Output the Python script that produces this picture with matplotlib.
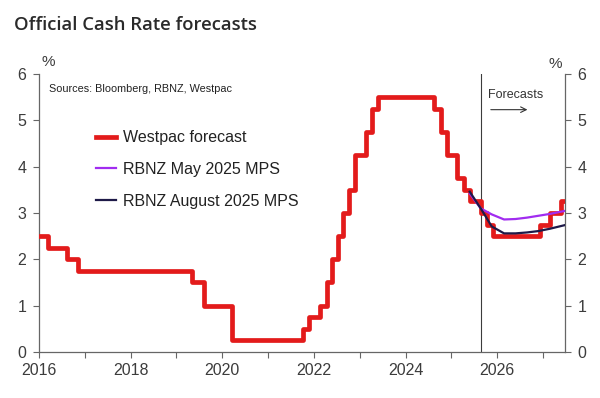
import matplotlib
matplotlib.use("Agg")
import matplotlib.pyplot as plt

# OCR history + Westpac forecast (decimal years, step changes)
wbc_x = [2015.9, 2016.19, 2016.61, 2016.86, 2019.35, 2019.60, 2020.21, 2021.76, 2021.90,
         2022.14, 2022.28, 2022.40, 2022.53, 2022.63, 2022.76, 2022.89, 2023.14, 2023.26,
         2023.39, 2024.62, 2024.77, 2024.91, 2025.13, 2025.27, 2025.41, 2025.64, 2025.77,
         2025.90, 2026.93, 2027.16, 2027.40, 2027.60]
wbc_y = [2.50, 2.25, 2.00, 1.75, 1.50, 1.00, 0.25, 0.50, 0.75,
         1.00, 1.50, 2.00, 2.50, 3.00, 3.50, 4.25, 4.75, 5.25,
         5.50, 5.25, 4.75, 4.25, 3.75, 3.50, 3.25, 3.00, 2.75,
         2.50, 2.75, 3.00, 3.25, 3.25]

# RBNZ MPS tracks (quarterly)
q_x = [2025.40, 2025.64, 2025.88, 2026.15, 2026.40, 2026.65, 2026.90, 2027.15, 2027.40, 2027.65]
may_y = [3.42, 3.10, 2.97, 2.86, 2.87, 2.90, 2.94, 2.98, 3.03, 3.08]
aug_y = [3.46, 3.10, 2.71, 2.56, 2.56, 2.58, 2.61, 2.66, 2.72, 2.78]

forecast_start = 2025.64
years_major = [2016, 2018, 2020, 2022, 2024, 2026]
years_minor = list(range(2016, 2028))

RED, PURPLE, NAVY, GREY = "#e31b1b", "#a12cf0", "#1e1a48", "#3c3c3c"

plt.rcParams.update({"font.family": ["Liberation Sans", "DejaVu Sans"]})

fig = plt.figure(figsize=(6.0, 3.98), dpi=100)
ax = fig.add_axes([0.065, 0.1156, 0.8767, 0.6985])

ax.step(wbc_x, wbc_y, where="post", color=RED, lw=3.4, label="Westpac forecast", zorder=3)
ax.plot(q_x, may_y, color=PURPLE, lw=1.6, label="RBNZ May 2025 MPS", zorder=4)
ax.plot(q_x, aug_y, color=NAVY, lw=1.6, label="RBNZ August 2025 MPS", zorder=5)
ax.axvline(forecast_start, color=GREY, lw=0.8, zorder=2)

ax.set_xlim(2016, 2027.48)
ax.set_ylim(0, 6)
ax.set_xticks(years_major)
ax.set_xticks(years_minor, minor=True)
ax.set_yticks(range(0, 7))
ax.spines["top"].set_visible(False)
for s in ("left", "right", "bottom"):
    ax.spines[s].set_color("#666666")
    ax.spines[s].set_linewidth(0.9)
ax.tick_params(axis="both", which="both", direction="out", length=4, width=0.8,
               color="#666666", labelsize=11.5, labelcolor=GREY)
ax.tick_params(axis="y", right=True, labelright=True, pad=5)
ax.tick_params(axis="x", pad=4)

ax.text(0.017, 1.043, "%", transform=ax.transAxes, fontsize=11, color=GREY, ha="center", va="center")
ax.text(0.981, 1.035, "%", transform=ax.transAxes, fontsize=11, color=GREY, ha="center", va="center")
ax.text(2016.22, 5.68, "Sources: Bloomberg, RBNZ, Westpac", fontsize=7.8, color="#222222", va="center")
ax.text(2025.80, 5.55, "Forecasts", fontsize=9, color="#333333", va="center")
ax.annotate("", xy=(2026.72, 5.23), xytext=(2025.80, 5.23),
            arrowprops=dict(arrowstyle="->", color="#333333", lw=0.8))

ax.legend(loc="upper left", bbox_to_anchor=(0.16, 0.673), bbox_transform=fig.transFigure,
          frameon=False, fontsize=11.5, handlelength=1.25, handletextpad=0.45,
          labelspacing=1.05, borderpad=0, borderaxespad=0, labelcolor="#222222")

fig.text(0.023, 0.925, "Official Cash Rate forecasts", fontsize=13.3, color="#2a2a2a",
         family=["Open Sans", "DejaVu Sans"], weight="semibold", va="baseline")

fig.savefig("out.png", dpi=100)
